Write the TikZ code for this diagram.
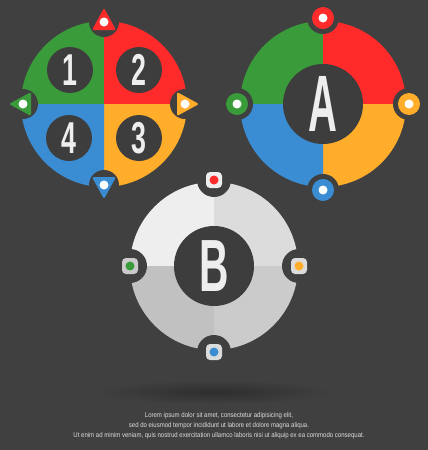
\documentclass[tikz,border=0pt]{standalone}
\usepackage{fontspec}
\setmainfont{Liberation Sans}

\definecolor{bgdark}{RGB}{64,64,64}
\definecolor{holedark}{RGB}{61,61,61}
\definecolor{shadowc}{RGB}{46,46,46}
\definecolor{qgreen}{RGB}{58,155,58}
\definecolor{qred}{RGB}{255,43,43}
\definecolor{qorange}{RGB}{255,173,42}
\definecolor{qblue}{RGB}{58,141,211}
\definecolor{greyA}{RGB}{238,238,238}
\definecolor{greyB}{RGB}{220,220,220}
\definecolor{greyC}{RGB}{203,203,203}
\definecolor{greyD}{RGB}{193,193,193}
\definecolor{txtgrey}{RGB}{222,222,222}

\tikzset{every picture/.style={line width=0.75pt}}
\tikzset{
  numlabel/.style={text=greyA, inner sep=0pt, xscale=0.6, font=\fontsize{33.5}{33.5}\selectfont\bfseries},
  biglabel/.style={text=greyA, inner sep=0pt, font=\fontsize{#1}{#1}\selectfont\bfseries},
  marktri/.style={rounded corners=1.5pt},
  marksq/.style={rounded corners=3pt},
}

\begin{document}
\begin{tikzpicture}[x=0.75pt,y=0.75pt,yscale=-1,xscale=1]
%set diagram size to 428 x 450
\useasboundingbox (0,0) rectangle (428,450);
\fill[bgdark] (0,0) rectangle (428,450);

%Shape: Pie (left circle, numbers)
\fill[qgreen] (104,104) -- (21,104) arc[start angle=180, end angle=270, radius=83] -- cycle;
\fill[qred] (104,104) -- (104,21) arc[start angle=270, end angle=360, radius=83] -- cycle;
\fill[qorange] (104,104) -- (187,104) arc[start angle=0, end angle=90, radius=83] -- cycle;
\fill[qblue] (104,104) -- (104,187) arc[start angle=90, end angle=180, radius=83] -- cycle;
%Shape: Notches
\fill[bgdark] (104,22) circle[radius=15];
\fill[bgdark] (185,104) circle[radius=15];
\fill[bgdark] (104,185) circle[radius=15];
\fill[bgdark] (23,104) circle[radius=15];
%Shape: Triangles
\fill[qred, marktri] (104,8) -- (116,30) -- (92,30) -- cycle;
\fill[white] (104,22) circle[radius=4.5];
\fill[qorange, marktri] (199,104) -- (177,116) -- (177,92) -- cycle;
\fill[white] (185,104) circle[radius=4.5];
\fill[qblue, marktri] (104,199) -- (92,177) -- (116,177) -- cycle;
\fill[white] (104,185) circle[radius=4.5];
\fill[qgreen, marktri] (9,104) -- (31,92) -- (31,116) -- cycle;
\fill[white] (23,104) circle[radius=4.5];
%Shape: Number holes
\fill[holedark] (70,70) circle[radius=23];
\fill[holedark] (139,70) circle[radius=23];
\fill[holedark] (139,138) circle[radius=23];
\fill[holedark] (69,138) circle[radius=23];

% Text Node
\draw (70,70) node (one) [numlabel] {1};
% Text Node
\draw (139,70) node (two) [numlabel] {2};
% Text Node
\draw (139,138) node (three) [numlabel] {3};
% Text Node
\draw (69,138) node (four) [numlabel] {4};

%Shape: Pie (circle A)
\fill[qgreen] (323,104) -- (240,104) arc[start angle=180, end angle=270, radius=83] -- cycle;
\fill[qred] (323,104) -- (323,21) arc[start angle=270, end angle=360, radius=83] -- cycle;
\fill[qorange] (323,104) -- (406,104) arc[start angle=0, end angle=90, radius=83] -- cycle;
\fill[qblue] (323,104) -- (323,187) arc[start angle=90, end angle=180, radius=83] -- cycle;
%Shape: Notches
\fill[bgdark] (323,18) circle[radius=16];
\fill[bgdark] (409,104) circle[radius=16];
\fill[bgdark] (323,190) circle[radius=16];
\fill[bgdark] (237,104) circle[radius=16];
%Shape: Dots
\fill[qred] (323,18) circle[radius=11];
\fill[white] (323,18) circle[radius=4.5];
\fill[qorange] (409,104) circle[radius=11];
\fill[white] (409,104) circle[radius=4.5];
\fill[qblue] (323,190) circle[radius=11];
\fill[white] (323,190) circle[radius=4.5];
\fill[qgreen] (237,104) circle[radius=11];
\fill[white] (237,104) circle[radius=4.5];
%Shape: Hole
\fill[holedark] (323,104) circle[radius=40];

% Text Node
\draw (323,104) node (letA) [biglabel=60, xscale=0.5] {A};

%Shape: Pie (circle B)
\fill[greyA] (214,266) -- (130,266) arc[start angle=180, end angle=270, radius=84] -- cycle;
\fill[greyB] (214,266) -- (214,182) arc[start angle=270, end angle=360, radius=84] -- cycle;
\fill[greyC] (214,266) -- (298,266) arc[start angle=0, end angle=90, radius=84] -- cycle;
\fill[greyD] (214,266) -- (214,350) arc[start angle=90, end angle=180, radius=84] -- cycle;
%Shape: Notches
\fill[bgdark] (214,180) circle[radius=17];
\fill[bgdark] (299,266) circle[radius=17];
\fill[bgdark] (214,352) circle[radius=17];
\fill[bgdark] (130,266) circle[radius=17];
%Shape: Squares
\fill[greyA, marksq] (206,172) rectangle (222,188);
\fill[qred] (214,180) circle[radius=4.5];
\fill[greyB, marksq] (291,258) rectangle (307,274);
\fill[qorange] (299,266) circle[radius=4.5];
\fill[greyB, marksq] (206,344) rectangle (222,360);
\fill[qblue] (214,352) circle[radius=4.5];
\fill[greyC, marksq] (122,258) rectangle (138,274);
\fill[qgreen] (130,266) circle[radius=4.5];
%Shape: Hole
\fill[holedark] (214,266) circle[radius=40];

% Text Node
\draw (214,266) node (letB) [biglabel=55.5, xscale=0.55] {B};

%Shape: Shadow
\shade[inner color=shadowc, outer color=bgdark] (215,392) ellipse (120 and 12);

% Text Node
\draw (219,426) node (lorem) [text=txtgrey, align=center, xscale=0.87, font=\fontsize{5.2}{7.5}\selectfont] {Lorem ipsum dolor sit amet, consectetur adipisicing elit,\\sed do eiusmod tempor incididunt ut labore et dolore magna aliqua.\\Ut enim ad minim veniam, quis nostrud exercitation ullamco laboris nisi ut aliquip ex ea commodo consequat.};

\end{tikzpicture}
\end{document}
